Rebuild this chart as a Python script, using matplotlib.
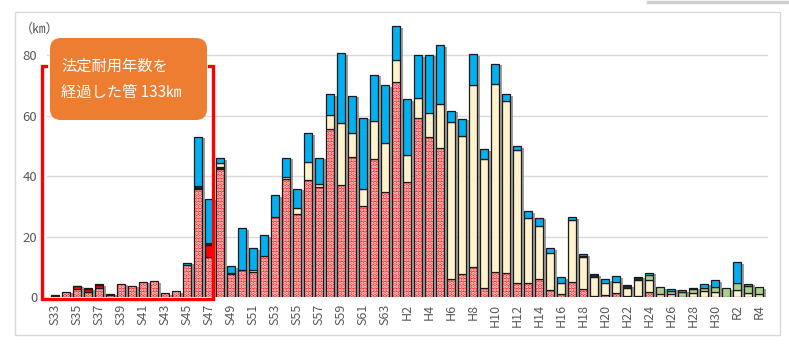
import matplotlib
matplotlib.use('Agg')
import matplotlib.pyplot as plt
import numpy as np
from matplotlib.patches import FancyBboxPatch, Rectangle
from matplotlib.transforms import IdentityTransform
from matplotlib.lines import Line2D
import matplotlib.patheffects as pe

plt.rcParams['font.family'] = ['Noto Sans CJK JP', 'DejaVu Sans']
plt.rcParams['hatch.linewidth'] = 1.6

years = ['S33', 'S34', 'S35', 'S36', 'S37', 'S38', 'S39', 'S40', 'S41', 'S42',
         'S43', 'S44', 'S45', 'S46', 'S47', 'S48', 'S49', 'S50', 'S51', 'S52',
         'S53', 'S54', 'S55', 'S56', 'S57', 'S58', 'S59', 'S60', 'S61', 'S62',
         'S63', 'H1', 'H2', 'H3', 'H4', 'H5', 'H6', 'H7', 'H8', 'H9',
         'H10', 'H11', 'H12', 'H13', 'H14', 'H15', 'H16', 'H17', 'H18', 'H19',
         'H20', 'H21', 'H22', 'H23', 'H24', 'H25', 'H26', 'H27', 'H28', 'H29',
         'H30', 'R1', 'R2', 'R3', 'R4']

# stacked series (km), bottom to top
dotted = [0.0, 1.8, 2.6, 1.8, 3.1, 0.7, 4.4, 3.8, 5.1, 5.3,
          1.3, 2.0, 10.5, 35.6, 13.3, 42.5, 7.6, 8.8, 8.2, 13.7,
          26.6, 38.9, 27.3, 38.7, 36.3, 55.5, 37.2, 46.4, 30.2, 45.8,
          34.8, 71.2, 38.1, 59.1, 53.0, 49.4, 5.8, 7.6, 10.0, 2.9,
          8.4, 8.0, 4.5, 4.5, 6.0, 2.3, 0.9, 5.1, 2.5, 0.3,
          0.7, 1.2, 0.3, 0.3, 1.8, 0.0, 0.0, 0.0, 0.0, 0.0,
          0.0, 0.0, 0.0, 0.0, 0.0]
red = [0.0, 0.0, 0.9, 0.8, 0.8, 0.0, 0.0, 0.0, 0.0, 0.0,
       0.0, 0.0, 0.0, 0.6, 4.0, 0.0, 0.0, 0.0, 0.0, 0.0,
       0.0, 0.0, 0.0, 0.0, 0.0, 0.0, 0.0, 0.0, 0.0, 0.0,
       0.0, 0.0, 0.0, 0.0, 0.0, 0.0, 0.0, 0.0, 0.0, 0.0,
       0.0, 0.0, 0.0, 0.0, 0.0, 0.0, 0.0, 0.0, 0.0, 0.0,
       0.0, 0.0, 0.0, 0.0, 0.0, 0.0, 0.0, 0.0, 0.0, 0.0,
       0.0, 0.0, 0.0, 0.0, 0.0]
dark = [0.5, 0.0, 0.3, 0.4, 0.3, 0.4, 0.0, 0.0, 0.0, 0.0,
        0.0, 0.0, 0.0, 0.5, 0.3, 0.6, 0.5, 0.0, 0.0, 0.0,
        0.0, 0.0, 0.3, 0.0, 0.0, 0.0, 0.0, 0.0, 0.0, 0.0,
        0.0, 0.0, 0.0, 0.0, 0.0, 0.0, 0.0, 0.0, 0.0, 0.0,
        0.0, 0.0, 0.0, 0.0, 0.0, 0.0, 0.0, 0.0, 0.0, 0.0,
        0.0, 0.0, 0.0, 0.0, 0.0, 0.0, 0.0, 0.0, 0.0, 0.0,
        0.0, 0.0, 0.0, 0.0, 0.0]
cream = [0.0, 0.0, 0.0, 0.0, 0.0, 0.0, 0.0, 0.0, 0.0, 0.0,
         0.0, 0.0, 0.0, 0.0, 0.3, 1.4, 0.0, 0.0, 0.7, 0.0,
         0.0, 0.9, 1.7, 6.0, 1.1, 4.7, 20.4, 7.7, 5.5, 12.4,
         16.0, 7.1, 8.8, 6.9, 7.9, 14.6, 52.2, 45.7, 60.1, 42.9,
         62.2, 56.8, 44.1, 21.7, 17.6, 12.1, 3.8, 20.4, 10.8, 6.4,
         4.0, 3.9, 2.6, 5.3, 3.8, 1.0, 0.9, 0.0, 1.2, 2.1,
         1.7, 0.0, 2.2, 1.4, 0.9]
green = [0.0, 0.0, 0.0, 0.0, 0.0, 0.0, 0.0, 0.0, 0.0, 0.0,
         0.0, 0.0, 0.0, 0.0, 0.0, 0.0, 0.0, 0.0, 0.0, 0.0,
         0.0, 0.0, 0.0, 0.0, 0.0, 0.0, 0.0, 0.0, 0.0, 0.0,
         0.0, 0.0, 0.0, 0.0, 0.0, 0.0, 0.0, 0.0, 0.0, 0.0,
         0.0, 0.0, 0.0, 0.0, 0.0, 0.0, 0.0, 0.0, 0.0, 0.0,
         0.0, 0.0, 0.0, 0.0, 1.7, 2.2, 1.1, 1.8, 1.3, 1.0,
         1.7, 2.9, 2.3, 2.2, 2.4]
navy = [0.0, 0.0, 0.0, 0.0, 0.0, 0.0, 0.0, 0.0, 0.0, 0.0,
        0.0, 0.0, 0.0, 0.0, 0.0, 0.0, 0.0, 0.0, 0.0, 0.0,
        0.0, 0.0, 0.0, 0.0, 0.0, 0.0, 0.0, 0.0, 0.0, 0.0,
        0.0, 0.0, 0.0, 0.0, 0.0, 0.0, 0.0, 0.0, 0.0, 0.0,
        0.0, 0.0, 0.0, 0.0, 0.0, 0.0, 0.0, 0.0, 0.3, 0.8,
        0.0, 0.0, 1.0, 1.1, 0.0, 0.0, 0.0, 0.0, 0.6, 0.0,
        0.0, 0.0, 0.0, 0.0, 0.0]
blue = [0.0, 0.0, 0.0, 0.0, 0.0, 0.0, 0.0, 0.0, 0.0, 0.0,
        0.0, 0.0, 0.9, 16.3, 14.6, 1.4, 2.1, 13.9, 7.2, 6.8,
        7.2, 6.3, 6.6, 9.6, 8.7, 6.9, 23.0, 12.5, 23.6, 15.4,
        19.2, 11.3, 18.6, 14.0, 19.3, 19.3, 3.7, 5.7, 10.2, 3.2,
        6.6, 2.3, 1.3, 2.1, 2.7, 1.8, 1.8, 0.9, 0.5, 0.0,
        1.1, 1.8, 0.0, 0.0, 0.7, 0.0, 0.8, 0.5, 0.0, 1.3,
        2.1, 0.0, 7.1, 0.8, 0.0]

y_ticks = [0, 20, 40, 60, 80]
unit_label = '（㎞）'
callout_lines = ['法定耐用年数を', '経過した管 133㎞']

W, H = 789, 344
fig = plt.figure(figsize=(W / 100, H / 100), dpi=100)
fig.patch.set_facecolor('white')

# outer chart frame
fig.add_artist(Rectangle((15, H - 335), 765, 323, transform=IdentityTransform(),
                         fill=False, edgecolor='#D9D9D9', lw=1.0))
fig.add_artist(Line2D([648, 789], [H - 1.5, H - 1.5], transform=IdentityTransform(),
                      color='#CFCFCF', lw=2.5))

ax = fig.add_axes([47 / W, 1 - 297 / H, (768 - 47) / W, (297 - 25) / H])
x = np.arange(len(years))
bw = 0.78
edge = '#1a1a1a'

series = [
    (dotted, 'dotted'),
    (red, '#FF0000'),
    (dark, '#262626'),
    (cream, '#FFF2CC'),
    (green, '#A9D18E'),
    (navy, '#1B2A38'),
    (blue, '#00B0F0'),
]

totals = np.sum([np.array(s[0]) for s in series], axis=0)
# background bars with drop shadow
ax.bar(x, totals, width=bw, color='white', edgecolor='none', zorder=1.5,
       path_effects=[pe.SimplePatchShadow(offset=(1.6, -1.2), shadow_rgbFace='#7f7f7f', alpha=0.75),
                     pe.Normal()])

bottom = np.zeros(len(years))
for vals, col in series:
    v = np.array(vals)
    m = v > 0
    if col == 'dotted':
        ax.bar(x[m], v[m], bottom=bottom[m], width=bw, color='#FF2B2B',
               edgecolor='#FFE6E6', lw=0, hatch='.....', zorder=2)
        ax.bar(x[m], v[m], bottom=bottom[m], width=bw, fill=False,
               edgecolor=edge, lw=0.9, zorder=2.1)
    else:
        ax.bar(x[m], v[m], bottom=bottom[m], width=bw, color=col,
               edgecolor=edge, lw=0.9, zorder=2.1)
    bottom += v

ax.set_xlim(-0.73, 64.8)
ax.set_ylim(0, 90)
ax.set_yticks(y_ticks)
ax.set_xticks(x[::2])
ax.set_xticklabels(years[::2], rotation=90, va='top', ha='center')
ax.tick_params(axis='both', length=0, colors='#595959')
ax.tick_params(axis='x', pad=5, labelsize=9)
ax.tick_params(axis='y', pad=7, labelsize=9.5)
for s in ax.spines.values():
    s.set_visible(False)
ax.grid(axis='y', color='#D9D9D9', lw=1.0, zorder=0)
ax.set_axisbelow(True)
ax.axhline(0, color='#D9D9D9', lw=1.0, zorder=1)

fig.text(20 / W, 1 - 29 / H, unit_label, fontsize=9.5, color='#595959', va='center', ha='left')

# red bracket around the over-age pipes
xl, xr, yt, yb = -1.18, 14.38, 76.4, -0.6
ax.add_line(Line2D([xl + 0.35, xl, xl, xr, xr, xr - 0.35], [yt, yt, yb, yb, yt, yt],
                   color='#FF0000', lw=2.4, clip_on=False, zorder=4,
                   solid_joinstyle='miter'))

# orange callout
fig.add_artist(FancyBboxPatch((50, H - 120), 157, 82,
                              boxstyle='round,pad=0,rounding_size=11',
                              transform=IdentityTransform(),
                              facecolor='#ED7D31', edgecolor='none', zorder=5))
fig.text(61 / W, 1 - 66 / H, callout_lines[0], fontsize=11, color='white',
         va='center', ha='left', zorder=6)
fig.text(61 / W, 1 - 92 / H, callout_lines[1], fontsize=11, color='white',
         va='center', ha='left', zorder=6)

fig.savefig('out.png', dpi=100)
